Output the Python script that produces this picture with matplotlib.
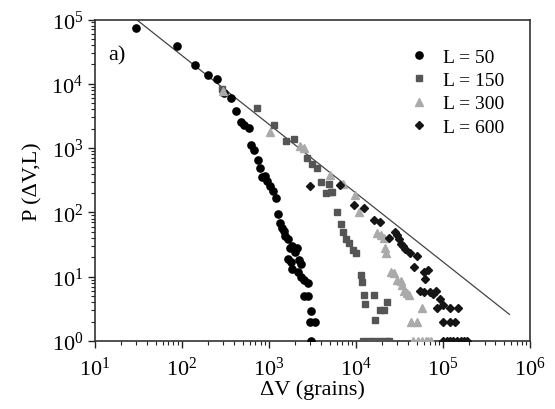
import matplotlib
matplotlib.use("Agg")
import matplotlib.pyplot as plt
import numpy as np
from matplotlib.ticker import LogLocator, LogFormatterMathtext, NullFormatter

plt.rcParams['font.family'] = ['Liberation Serif', 'DejaVu Serif']
plt.rcParams['mathtext.fontset'] = 'stix'

# L = 50 (circles)
x50 = [30, 87, 141, 198, 255, 302, 365, 416, 474, 512, 589, 629, 679, 739, 796, 835,
       900, 961, 1030, 1110, 1220, 1270, 1340, 1400, 1470, 1540, 1640, 1740, 1860, 1980,
       2100, 1670, 1810, 2240, 2350, 1860, 2140, 2350, 2540, 2840, 2540, 2840, 3030,
       2970, 3360, 3030]
y50 = [7.4e4, 3.9e4, 1.97e4, 1.37e4, 1.19e4, 7.2e3, 5.96e3, 3.83e3, 2.52e3, 2.29e3,
       2.03e3, 1.12e3, 944, 659, 483, 350, 371, 311, 259, 217, 167, 94, 68, 58, 52, 43,
       38, 28, 30, 24, 28, 19, 17, 18, 16, 13, 12, 10, 8.9, 7.9, 5, 5, 2.9, 2, 2, 1]

# L = 150 (squares)
x150 = [291, 723, 1130, 1560, 1950, 2770, 3160, 3600, 3930, 4900, 4500, 5100, 5300,
        6000, 6650, 7100, 7600, 8300, 9300, 9900, 11300, 11800, 12300, 12800, 16000,
        16700, 19000, 20800, 22700, 12000, 14000, 16000, 19000, 22000, 24000]
y150 = [8.3e3, 4.2e3, 2.3e3, 1.3e3, 1.38e3, 698, 562, 487, 302, 274, 198, 205, 205,
        102, 67, 50, 39, 33, 26, 23, 10.5, 8.3, 5.1, 3.8, 5.1, 2.1, 3, 3, 4,
        1, 1, 1, 1, 1, 1]

# L = 300 (triangles)
x300 = [300, 1040, 2300, 2500, 5000, 7100, 9800, 10800, 17500, 19500, 21000, 21500,
        22000, 25000, 27000, 30000, 32500, 34000, 36000, 39000, 41000, 57000, 43000,
        50000, 45000, 52000, 58000, 63000, 68000, 73000]
y300 = [7.8e3, 1.75e3, 1.08e3, 1.0e3, 380, 275, 185, 100, 48, 45, 40, 28, 23, 12,
        11.5, 9, 8.5, 7.3, 6, 5.5, 5.2, 3.2, 2, 2, 1, 1, 1, 1, 1, 1]

# L = 600 (diamonds)
x600 = [3000, 6500, 9500, 12500, 16000, 19000, 24000, 28000, 29500, 31000, 32500,
        35000, 37000, 42000, 50000, 46000, 60000, 68000, 62000, 55000, 60000, 71000,
        77000, 82000, 92000, 100000, 85000, 120000, 150000, 100000, 120000, 137000,
        100000, 110000, 120000, 130000, 145000, 160000, 175000, 190000]
y600 = [260, 270, 130, 115, 75, 72, 40, 50, 45, 38, 32, 30, 27, 23, 21, 14, 12, 12.5,
        9.3, 6, 5.8, 5.8, 5.4, 6, 4.5, 3.6, 3.2, 3.2, 3.2, 2, 2, 2,
        1, 1, 1, 1, 1, 1, 1, 1]

# power-law guide line
fit_x = [30, 5.8e5]
fit_amp = 3.8e6
fit_tau = 1.07

fig = plt.figure(figsize=(5.55, 4.10), dpi=100)
ax = fig.add_axes([0.171, 0.166, 0.784, 0.784])

fx = np.array(fit_x)
ax.plot(fx, fit_amp * fx ** (-fit_tau), color='#444444', lw=0.9, zorder=1)

ax.plot(x50, y50, 'o', color='black', ms=5.2, ls='none', label='L = 50', zorder=3)
ax.plot(x150, y150, 's', color='#555555', ms=4.6, ls='none', label='L = 150', zorder=3)
ax.plot(x300, y300, '^', color='#aaaaaa', ms=5.2, ls='none', label='L = 300', zorder=3)
ax.plot(x600, y600, 'D', color='#151515', ms=4.4, ls='none', label='L = 600', zorder=3)

ax.set_xscale('log')
ax.set_yscale('log')
ax.set_xlim(10, 1e6)
ax.set_ylim(1, 1e5)

for a in (ax.xaxis, ax.yaxis):
    a.set_major_locator(LogLocator(base=10, numticks=10))
    a.set_minor_locator(LogLocator(base=10, subs=np.arange(2, 10), numticks=10))
    a.set_major_formatter(LogFormatterMathtext())
    a.set_minor_formatter(NullFormatter())

ax.tick_params(which='both', direction='out', top=False, right=False, labelsize=16, color='#222222')
ax.tick_params(axis='x', which='major', pad=6)
ax.tick_params(which='major', length=5, width=1.0)
ax.tick_params(which='minor', length=3, width=0.8)
for s in ax.spines.values():
    s.set_linewidth(1.2)
    s.set_color('#333333')

ax.set_xlabel('ΔV (grains)', fontsize=16, labelpad=0)
ax.set_ylabel('P (ΔV,L)', fontsize=16, labelpad=6)

ax.text(0.03, 0.875, 'a)', transform=ax.transAxes, fontsize=16)

leg = ax.legend(loc='upper right', frameon=False, fontsize=14, handletextpad=0.6,
                labelspacing=0.3, borderaxespad=0.6, handlelength=1.2,
                bbox_to_anchor=(0.985, 0.972))

fig.savefig('out.png', dpi=100)
